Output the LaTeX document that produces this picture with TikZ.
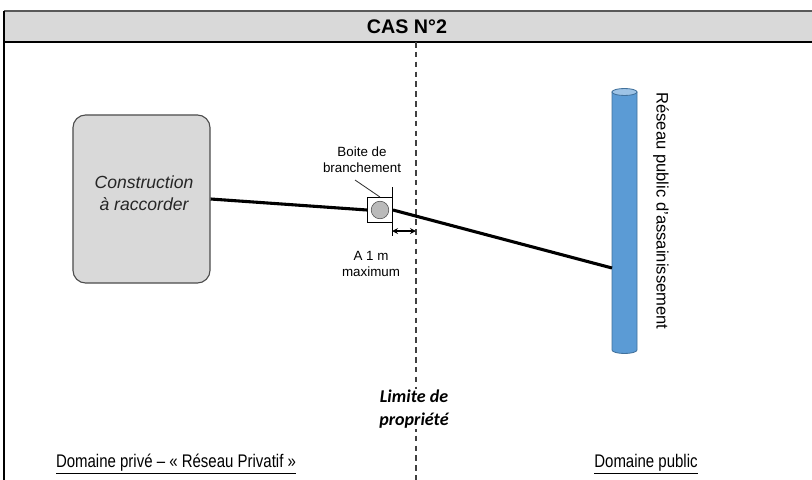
\documentclass[tikz,border=0pt]{standalone}
\usepackage{fontspec}
\setmainfont{Liberation Sans}
\newfontfamily\calibri{Carlito}
\newfontfamily\narrowfont{Liberation Sans}[FakeStretch=0.82]
\usetikzlibrary{positioning}
\definecolor{headgray}{HTML}{D9D9D9}
\definecolor{boxgray}{HTML}{D9D9D9}
\definecolor{pipeblue}{HTML}{5B9BD5}
\definecolor{pipeedge}{HTML}{41719C}
\definecolor{pipetop}{HTML}{9DC3E6}
\tikzset{%
  small text/.style={
    font=\fontsize{9.5}{11.5}\selectfont,
    align=center,
    inner sep=1pt
  },
  domain text/.style={
    font=\fontsize{13}{15}\selectfont\narrowfont,
    inner sep=1pt
  },
}

\begin{document}
\begin{tikzpicture}[x=0.025cm, y=-0.025cm, >=stealth]
\clip (0,0) rectangle (812,480);

% frame and title
\fill [headgray] (4,11) rectangle (830,42);
\draw [line width=2pt, black!65] (4,11) -- (830,11);
\draw [line width=0.9pt] (4,42) -- (830,42);
\draw [line width=0.8pt] (4,11) -- (4,490);
\node [font=\fontsize{14}{16}\selectfont\bfseries] (title) at (407,27) {CAS N°2};

% property limit
\coordinate (limit-top) at (416,42);
\coordinate (limit-bot) at (416,490);
\draw [line width=0.8pt, black!75, dash pattern=on 4pt off 3pt] (limit-top) -- (limit-bot);

%%%%%%%%%%%%%%%%%%%%%%%%%%%%%%%%%%%%%%%%%%%%%%%%%%%%%%%%%%%%%%%%%%%%%%%%%%%%%
% construction, box and network

\node [draw=black!70, fill=boxgray, rounded corners=9pt, line width=0.8pt,
       minimum width=3.425cm, minimum height=4.2cm] (construction) at (141.5,199) {};
\node [font=\fontsize{12.5}{15.5}\selectfont\itshape, align=center, text=black!85] (construction-text) at (144,193) {Construction\\à raccorder};

\node [draw, line width=0.8pt, minimum size=0.62cm, inner sep=0] (boite) at (380,210) {};
\node [circle, draw=black!70, fill=black!27, minimum size=0.44cm, inner sep=0] (regard) at (boite) {};

% public sewer pipe
\draw [fill=pipeblue, draw=pipeedge, line width=0.6pt]
  (612,92) -- (612,350) arc [start angle=180, end angle=0, x radius=12.5, y radius=3.5]
  -- (637,92) -- cycle;
\draw [fill=pipetop, draw=pipeedge, line width=0.6pt] (624.5,92) ellipse [x radius=12.5, y radius=3.5];
\coordinate (reseau-in) at (612,268);

\node [rotate=-90, font=\fontsize{11.8}{13}\selectfont] (reseau) at (661,211) {Réseau public d'assainissement};

% pipes
\draw [line width=2.2pt] (construction.east) -- (boite.west);
\draw [line width=2.2pt] (boite.east) -- (reseau-in);

%%%%%%%%%%%%%%%%%%%%%%%%%%%%%%%%%%%%%%%%%%%%%%%%%%%%%%%%%%%%%%%%%%%%%%%%%%%%%
% labels

\node [small text] (boite-label) at (362,160) {Boite de\\branchement};
\coordinate (leader-start) at (355,180);
\draw [line width=0.6pt, black!80] (leader-start) -- (boite.north);

\coordinate (tick-top) at (392,187);
\coordinate (tick-bot) at (392,236);
\draw [line width=0.7pt] (tick-top) -- (tick-bot);
\coordinate (cote-a) at (392,231);
\coordinate (cote-b) at (416,231);
\draw [<->, line width=0.9pt] (cote-a) -- (cote-b);
\node [small text] (cote-label) at (371,264) {A 1 m\\maximum};

\node [fill=white, align=center, inner sep=1pt,
       font=\fontsize{12.8}{16}\selectfont\calibri\bfseries\itshape] (limit-label) at (414,409) {Limite de\\propriété};

\node [domain text] (prive) at (176,464) {\underline{Domaine privé – « Réseau Privatif »}};
\node [domain text] (public) at (646,464) {\underline{Domaine public}};

\end{tikzpicture}
\end{document}
